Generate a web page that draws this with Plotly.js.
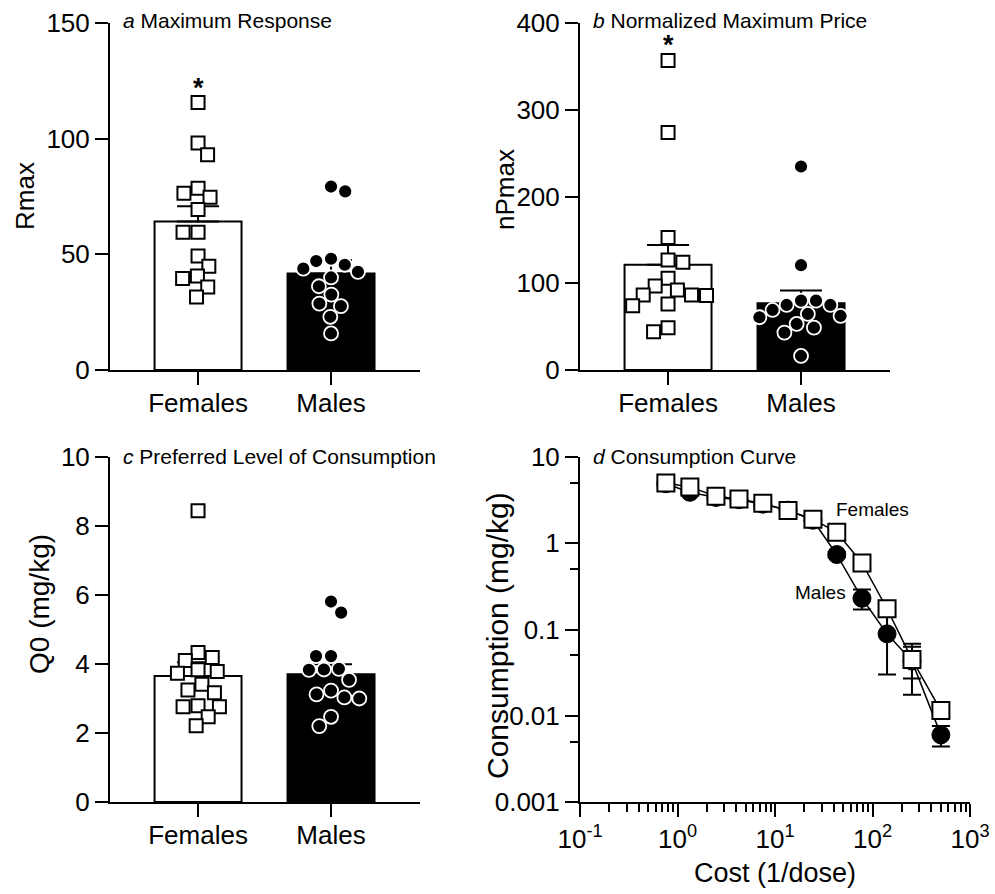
<!DOCTYPE html>
<html>
<head>
<meta charset="utf-8">
<script src="https://cdn.plot.ly/plotly-3.0.1.min.js"></script>
<style>
  html, body { margin: 0; padding: 0; background: #fff; }
  #chart { width: 995px; height: 894px; }
</style>
</head>
<body>
<div id="chart"></div>
<script>
// ---------- data ----------
const groups = ['Females', 'Males'];

// a: maximum response (Rmax)
const rmaxFemales = [115.6, 98.1, 93.1, 78.6, 76.4, 74.7, 69.4, 59.6, 59.6, 49.3, 44.8, 40.6, 39.5, 35.9, 31.6];
const rmaxMales   = [79.3, 77.2, 48.1, 47.1, 45.5, 43.8, 42.4, 40.0, 36.2, 32.6, 28.7, 27.6, 23.0, 15.8];
const rmaxMean = [64.2, 41.7];
const rmaxSem  = [6.6, 5.7];

// b: normalized maximum price (nPmax)
const npmaxFemales = [356.9, 273.8, 152.7, 126.9, 124.2, 105.8, 96.9, 92.3, 86.5, 86.5, 85.8, 76.2, 74.2, 48.8, 44.2];
const npmaxMales   = [234.6, 120.8, 80.0, 80.0, 75.0, 75.0, 69.2, 64.6, 62.3, 60.8, 53.1, 48.8, 43.1, 16.2];
const npmaxMean = [121.2, 77.0];
const npmaxSem  = [23.0, 14.5];

// c: preferred level of consumption (Q0, mg/kg)
const q0Females = [8.44, 4.33, 4.19, 4.10, 3.83, 3.78, 3.73, 3.41, 3.25, 3.17, 2.79, 2.76, 2.76, 2.47, 2.21];
const q0Males   = [5.81, 5.49, 4.23, 4.23, 3.86, 3.84, 3.83, 3.54, 3.23, 3.12, 3.03, 3.00, 2.47, 2.20];
const q0Mean = [3.65, 3.70];
const q0Sem  = [0.40, 0.29];

// d: consumption curve
const cost = [0.76, 1.34, 2.48, 4.27, 7.5, 13.6, 24.5, 43, 78, 141, 254, 503];
const consumptionFemales = [5.0, 4.5, 3.5, 3.26, 2.9, 2.4, 1.9, 1.34, 0.59, 0.174, 0.045, 0.0115];
const consumptionFemalesSem = [0.3, 0.25, 0.2, 0.2, 0.18, 0.15, 0.12, 0.1, 0.05, 0.03, 0.018, 0.0015];
const consumptionMales = [4.9, 3.9, 3.4, 3.2, 2.84, 2.42, 1.85, 0.74, 0.23, 0.089, 0.043, 0.006];
const consumptionMalesSem = [0.3, 0.25, 0.2, 0.2, 0.18, 0.15, 0.1, 0.05, 0.06, 0.059, 0.0255, 0.0016];

const costTicks = [0.1, 1, 10, 100, 1000];
const costTickText = ['10<sup>-1</sup>', '10<sup>0</sup>', '10<sup>1</sup>', '10<sup>2</sup>', '10<sup>3</sup>'];
const consTicks = [0.001, 0.01, 0.1, 1, 10];
const consTickText = ['0.001', '0.01', '0.1', '1', '10'];

// ---------- geometry ----------
const W = 995, H = 894;
const FONT = 'Liberation Sans, Arial, Helvetica, sans-serif';
const catRange = [-0.662, 1.669];
const px = {
  a: {x0: 110, x1: 420, y0: 23,  y1: 370},
  b: {x0: 580, x1: 890, y0: 23,  y1: 370},
  c: {x0: 110, x1: 420, y0: 457, y1: 802},
  d: {x0: 580, x1: 970, y0: 457, y1: 802}
};
const xd = p => [p.x0 / W, p.x1 / W];
const yd = p => [1 - p.y1 / H, 1 - p.y0 / H];

// Beeswarm placement: points keep their value on y and are nudged sideways
// just enough (in screen pixels) so that no two markers overlap.
function swarm(values, center, pxPerX, pxPerY, diam) {
  const placed = [];
  const out = new Array(values.length);
  let side = 1;
  values.forEach((v, i) => {
    const y = v * pxPerY;
    const cands = [0];
    placed.forEach(p => {
      const dy = Math.abs(p.y - y);
      if (dy < diam) {
        const h = Math.sqrt(diam * diam - dy * dy);
        cands.push(p.x + h, p.x - h);
      }
    });
    const ok = c => placed.every(p => (c - p.x) ** 2 + (p.y - y) ** 2 >= diam * diam - 0.01);
    let best = null;
    cands.filter(ok).forEach(c => {
      if (best === null || Math.abs(c) < Math.abs(best) - 0.01 ||
          (Math.abs(Math.abs(c) - Math.abs(best)) <= 0.01 && Math.sign(c) === side)) best = c;
    });
    if (best !== 0) side = -side;
    placed.push({x: best, y: y});
    out[i] = center + best / pxPerX;
  });
  return out;
}

const axisLine = {showline: true, linecolor: '#000', linewidth: 2, ticks: 'outside',
  ticklen: 13, tickwidth: 2, tickcolor: '#000', showgrid: false, zeroline: false,
  tickfont: {family: FONT, size: 26, color: '#000'}};

const femaleMarker = {symbol: 'square', size: 13, color: '#fff', line: {color: '#000', width: 2}};
const maleMarker = {symbol: 'circle', size: 14, color: '#000', line: {color: '#fff', width: 1.8}};

function barPanel(key, xa, ya, mean, sem, fem, mal, yMax) {
  const p = px[key];
  const pxPerX = (p.x1 - p.x0) / (catRange[1] - catRange[0]);
  const pxPerY = (p.y1 - p.y0) / yMax;
  return [
    {type: 'bar', x: [0, 1], y: mean, width: 0.654, xaxis: xa, yaxis: ya,
     marker: {color: ['#fff', '#000'], line: {color: '#000', width: 2}},
     error_y: {type: 'data', array: sem, arrayminus: [0, 0], symmetric: false,
               color: '#000', thickness: 2, width: 21},
     showlegend: false, hoverinfo: 'skip'},
    {type: 'scatter', mode: 'markers', x: swarm(mal, 1, pxPerX, pxPerY, 15), y: mal,
     xaxis: xa, yaxis: ya, marker: maleMarker, showlegend: false, cliponaxis: false},
    {type: 'scatter', mode: 'markers', x: swarm(fem, 0, pxPerX, pxPerY, 15), y: fem,
     xaxis: xa, yaxis: ya, marker: femaleMarker, showlegend: false, cliponaxis: false}
  ];
}

const traces = [].concat(
  barPanel('a', 'x', 'y', rmaxMean, rmaxSem, rmaxFemales, rmaxMales, 150),
  barPanel('b', 'x2', 'y2', npmaxMean, npmaxSem, npmaxFemales, npmaxMales, 400),
  barPanel('c', 'x3', 'y3', q0Mean, q0Sem, q0Females, q0Males, 10),
  [
    {type: 'scatter', mode: 'lines+markers', x: cost, y: consumptionMales, xaxis: 'x4', yaxis: 'y4',
     line: {color: '#000', width: 1.5},
     marker: {symbol: 'circle', size: 18, color: '#000', line: {color: '#000', width: 1}},
     error_y: {type: 'data', array: consumptionMalesSem, color: '#000', thickness: 2, width: 9},
     showlegend: false, cliponaxis: false},
    {type: 'scatter', mode: 'lines+markers', x: cost, y: consumptionFemales, xaxis: 'x4', yaxis: 'y4',
     line: {color: '#000', width: 1.5},
     marker: {symbol: 'square', size: 17, color: '#fff', line: {color: '#000', width: 2}},
     error_y: {type: 'data', array: consumptionFemalesSem, color: '#000', thickness: 2, width: 9},
     showlegend: false, cliponaxis: false}
  ]
);

// minor ticks of the cost axis: 2..9 within every decade
const costMinor = [];
for (let k = -1; k < 3; k++) for (let m = 2; m <= 9; m++) costMinor.push(m * Math.pow(10, k));
const consMinor = [0.005, 0.05, 0.5, 5];

const catAxis = (dom, anchor) => Object.assign({}, axisLine, {
  domain: dom, anchor: anchor, range: catRange, tickvals: [0, 1], ticktext: groups,
  ticklabelstandoff: -4, fixedrange: true});
const valAxis = (dom, anchor, range, dtick) => Object.assign({}, axisLine, {
  domain: dom, anchor: anchor, range: range, dtick: dtick, tick0: 0});

const panelTitle = (x, y, letter, text) => ({
  xref: 'paper', yref: 'paper', x: x / W, y: 1 - y / H, xanchor: 'left', yanchor: 'middle',
  text: '<i>' + letter + '</i> ' + text, showarrow: false,
  font: {family: FONT, size: 21, color: '#000'}});
// vertical axis titles, placed by hand beside the tick labels
const yTitle = (x, y, text, size) => ({
  xref: 'paper', yref: 'paper', x: x / W, y: 1 - y / H, xanchor: 'center', yanchor: 'middle',
  textangle: -90, text: text, showarrow: false,
  font: {family: FONT, size: size, color: '#000'}});
const star = (xa, ya, yv) => ({
  xref: xa, yref: ya, x: 0, y: yv, yanchor: 'middle', yshift: 15, text: '<b>*</b>', showarrow: false,
  font: {family: FONT, size: 27, color: '#000'}});

const layout = {
  width: W, height: H, margin: {l: 0, r: 0, t: 0, b: 0},
  paper_bgcolor: '#fff', plot_bgcolor: 'rgba(0,0,0,0)',
  font: {family: FONT, color: '#000'},
  bargap: 0,
  xaxis:  catAxis(xd(px.a), 'y'),
  yaxis:  valAxis(yd(px.a), 'x', [0, 150], 50),
  xaxis2: catAxis(xd(px.b), 'y2'),
  yaxis2: valAxis(yd(px.b), 'x2', [0, 400], 100),
  xaxis3: catAxis(xd(px.c), 'y3'),
  yaxis3: valAxis(yd(px.c), 'x3', [0, 10], 2),
  xaxis4: Object.assign({}, axisLine, {
    domain: xd(px.d), anchor: 'y4', type: 'log', range: [-1, 3],
    tickvals: costTicks, ticktext: costTickText,
    minor: {tickvals: costMinor, ticks: 'outside', ticklen: 8, tickwidth: 2, tickcolor: '#000', showgrid: false},
    title: {text: 'Cost (1/dose)', font: {family: FONT, size: 27, color: '#000'}, standoff: 10}}),
  yaxis4: Object.assign({}, axisLine, {
    domain: yd(px.d), anchor: 'x4', type: 'log', range: [-3, 1],
    tickvals: consTicks, ticktext: consTickText,
    minor: {tickvals: consMinor, ticks: 'outside', ticklen: 8, tickwidth: 2, tickcolor: '#000', showgrid: false}}),
  annotations: [
    panelTitle(121, 20, 'a', 'Maximum Response'),
    panelTitle(591, 20, 'b', 'Normalized Maximum Price'),
    panelTitle(121, 456, 'c', 'Preferred Level of Consumption'),
    panelTitle(591, 456, 'd', 'Consumption Curve'),
    yTitle(25, 196, 'Rmax', 26),
    yTitle(505, 190, 'nPmax', 26),
    yTitle(39, 604, 'Q0 (mg/kg)', 28),
    yTitle(497, 636, 'Consumption (mg/kg)', 30),
    star('x', 'y', Math.max(...rmaxFemales)),
    star('x2', 'y2', Math.max(...npmaxFemales)),
    {xref: 'x4', yref: 'y4', x: Math.log10(100), y: Math.log10(2.45), text: 'Females', showarrow: false,
     xanchor: 'center', yanchor: 'middle', font: {family: FONT, size: 19, color: '#000'}},
    {xref: 'x4', yref: 'y4', x: Math.log10(29), y: Math.log10(0.27), text: 'Males', showarrow: false,
     xanchor: 'center', yanchor: 'middle', font: {family: FONT, size: 19, color: '#000'}}
  ]
};

Plotly.newPlot('chart', traces, layout, {staticPlot: true, displayModeBar: false});
</script>
</body>
</html>
